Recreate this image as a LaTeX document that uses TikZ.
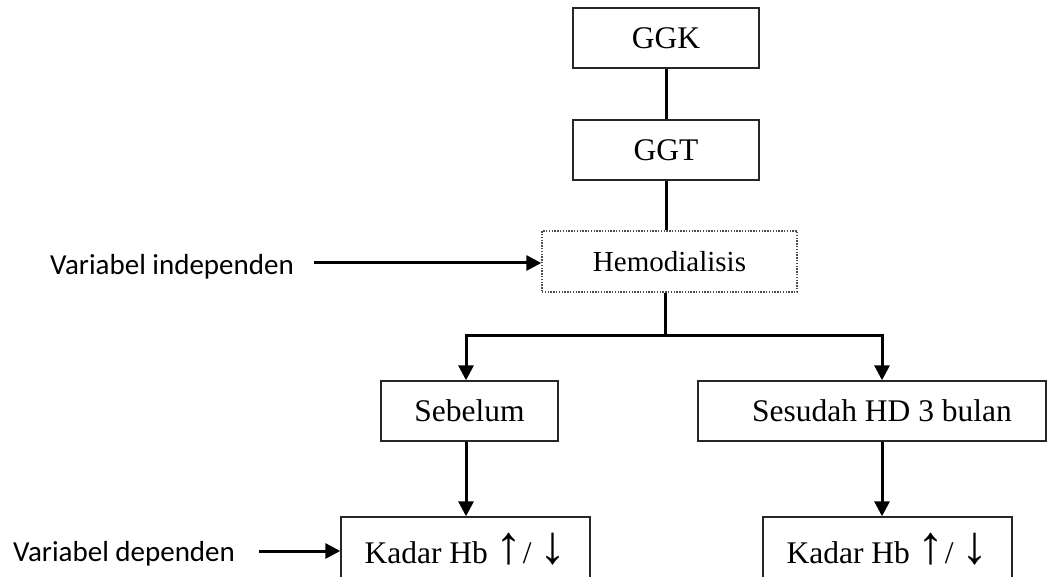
\documentclass[tikz,border=0pt]{standalone}
\usepackage{fontspec}
\setmainfont{Liberation Serif}
\newfontfamily\calibri{Carlito}
\newfontfamily\arrowfont{Liberation Serif}
\newcommand{\upar}{{\arrowfont\fontsize{54}{54}\selectfont ↑}}
\newcommand{\downar}{{\arrowfont\fontsize{54}{54}\selectfont ↓}}
\usetikzlibrary{arrows.meta}
\begin{document}
\begin{tikzpicture}[x=1pt,y=-1pt,
  box/.style={draw=black!85, line width=1.4pt, inner sep=0pt, font=\fontsize{31.5}{36}\selectfont},
  dotbox/.style={draw=black!70, line width=1.4pt, dash pattern=on 1.4pt off 1.4pt, inner sep=0pt, font=\fontsize{29}{34}\selectfont},
  conn/.style={line width=3pt},
  arr/.style={line width=3pt,-{Triangle[length=15pt,width=15pt]}},
  lbl/.style={font=\calibri\fontsize{29}{34}\selectfont, inner sep=0pt},
  kbox/.style={box, minimum width=249pt, minimum height=62pt, text height=30pt, text depth=0pt}]
\useasboundingbox (0,0) rectangle (1057,577);
\node[box, minimum width=186pt, minimum height=60pt] (ggk) at (666,38) {GGK};
\node[box, minimum width=186pt, minimum height=60pt] (ggt) at (666,150) {GGT};
\node[dotbox, minimum width=255pt, minimum height=61pt] (hemo) at (669.5,261.5) {Hemodialisis};
\node[box, minimum width=177pt, minimum height=60pt] (seb) at (469.5,411) {Sebelum};
\node[box, minimum width=348pt, minimum height=60pt] (ses) at (872,411) {\hspace*{20pt}Sesudah HD 3 bulan};
\node[kbox] (kad1) at (465.5,548) {Kadar Hb \upar/ \downar};
\node[kbox] (kad2) at (887.5,548) {Kadar Hb \upar/ \downar};
\node[lbl, anchor=base west] (ind) at (50,275) {Variabel independen};
\node[lbl, anchor=base west] (dep) at (13,561) {Variabel dependen};
\coordinate (split) at (665,335);
\coordinate (la) at (466,0);
\coordinate (ra) at (882,0);
\coordinate (indA) at (314,263);
\coordinate (depA) at (259,551);
\draw[conn] (ggk.south) -- (ggt.north);
\draw[conn] (ggt.south) -- (ggt.south |- hemo.north);
\draw[conn] (hemo.south -| split) -- (split);
\draw[arr] (split) -| (seb.north -| la);
\draw[arr] (split) -| (ses.north -| ra);
\draw[arr] (seb.south -| la) -- (kad1.north -| la);
\draw[arr] (ses.south -| ra) -- (kad2.north -| ra);
\draw[arr] (indA) -- (indA -| hemo.west);
\draw[arr] (depA) -- (depA -| kad1.west);
\end{tikzpicture}
\end{document}
